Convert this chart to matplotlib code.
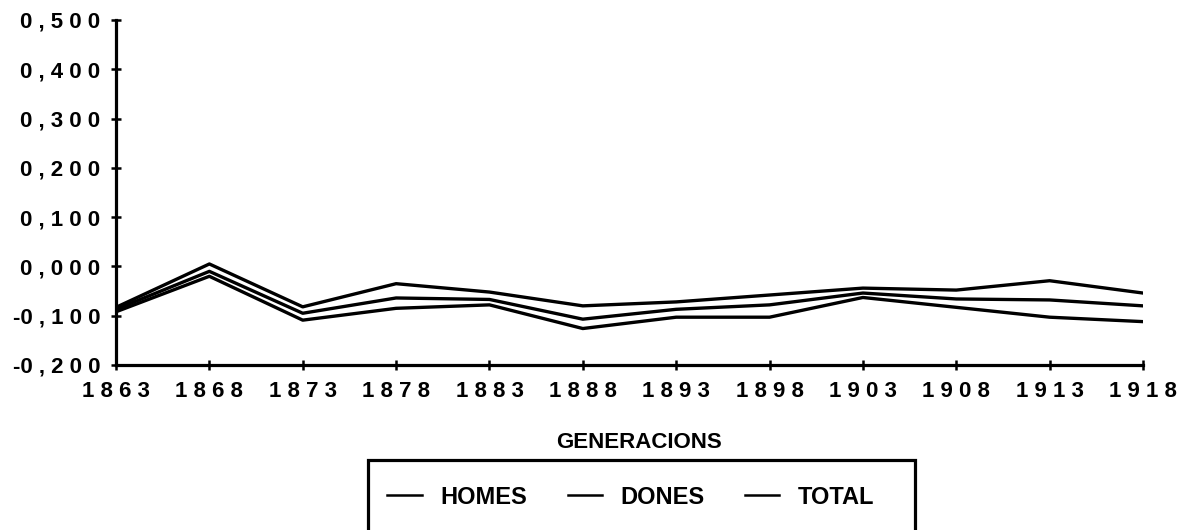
import matplotlib.pyplot as plt
from matplotlib.patches import Rectangle

# generaciones (eje x)
years = [1863, 1868, 1873, 1878, 1883, 1888, 1893, 1898, 1903, 1908, 1913, 1918]

# valores
homes = [-0.092, -0.020, -0.109, -0.085, -0.078, -0.126, -0.103, -0.103, -0.063, -0.083, -0.103, -0.112]
dones = [-0.083, 0.005, -0.082, -0.035, -0.052, -0.080, -0.072, -0.058, -0.044, -0.048, -0.029, -0.054]
total = [-0.087, -0.010, -0.095, -0.064, -0.067, -0.107, -0.087, -0.078, -0.054, -0.066, -0.068, -0.080]

y_ticks = [-0.2, -0.1, 0.0, 0.1, 0.2, 0.3, 0.4, 0.5]


def spaced(s):
    # separacion entre letras como en el original
    return " ".join(s)


def fmt(v):
    s = "{:.3f}".format(v).replace(".", ",")
    if s.startswith("-"):
        return "-" + spaced(s[1:])
    return spaced(s)


fig = plt.figure(figsize=(11.91, 5.30), dpi=100)
ax = fig.add_axes([116 / 1191, 1 - 365 / 530, 1027 / 1191, 345 / 530])

lw = 2.4
ax.plot(years, homes, color="black", lw=lw, label="HOMES")
ax.plot(years, dones, color="black", lw=lw, label="DONES")
ax.plot(years, total, color="black", lw=lw, label="TOTAL")

ax.set_xlim(years[0], years[-1])
ax.set_ylim(-0.2, 0.5)
ax.set_xticks(years)
ax.set_xticklabels([spaced(str(y)) for y in years])
ax.set_yticks(y_ticks)
ax.set_yticklabels([fmt(v) for v in y_ticks])

for side in ["top", "right"]:
    ax.spines[side].set_visible(False)
for side in ["left", "bottom"]:
    ax.spines[side].set_linewidth(2.3)
    ax.spines[side].set_capstyle("projecting")

ax.tick_params(axis="both", direction="inout", length=7, width=1.8, color="black")
ax.tick_params(axis="y", pad=8)
ax.tick_params(axis="x", pad=8)
for lab in ax.get_xticklabels() + ax.get_yticklabels():
    lab.set_fontfamily("Liberation Sans")
    lab.set_fontweight("bold")
    lab.set_fontsize(16)

ax.set_xlabel("GENERACIONS", fontfamily="Liberation Sans", fontweight="bold", fontsize=16)
ax.xaxis.set_label_coords((639 - 116) / 1027, (365 - 442) / 345)
ax.xaxis.label.set_va("center")

# marco de la leyenda (cortado por abajo)
fig.patches.append(Rectangle((368 / 1191, -0.1), 547 / 1191, 0.1 + 70 / 530,
                             transform=fig.transFigure, fill=False,
                             edgecolor="black", linewidth=2.3, clip_on=False))
leg = fig.legend(loc="center", bbox_to_anchor=(631 / 1191, 33 / 530), ncol=3, frameon=False,
                 handlelength=1.45, handletextpad=0.8, columnspacing=1.7,
                 prop={"family": "Liberation Sans", "weight": "bold", "size": 17})
for line in leg.get_lines():
    line.set_linewidth(1.8)

fig.savefig("out.png", dpi=100)
